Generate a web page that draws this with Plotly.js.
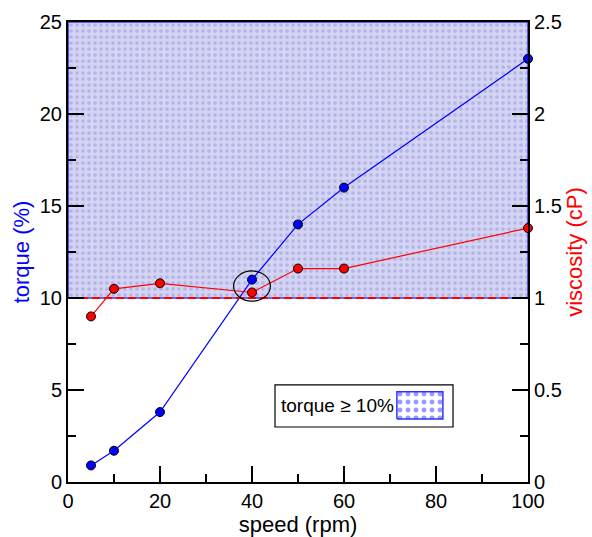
<!DOCTYPE html>
<html>
<head>
<meta charset="utf-8">
<script src="https://cdn.plot.ly/plotly-3.0.1.min.js"></script>
<style>html,body{margin:0;padding:0;background:#fff;}#chart{width:592px;height:537px;}</style>
</head>
<body>
<div id="chart"></div>
<script>
// ---- data ----
var speed = [5, 10, 20, 40, 50, 60, 100];
var torque = [0.9, 1.7, 3.8, 11, 14, 16, 23];
var viscosity = [0.9, 1.05, 1.08, 1.03, 1.16, 1.16, 1.38];
var torqueThreshold = 10;       // %
var viscosityReference = 1;     // cP
var highlightSpeed = 40;        // circled point
var legendLabel = 'torque \u2265 10%';
var xTitle = 'speed (rpm)';
var yTitle = 'torque (%)';
var y2Title = 'viscosity (cP)';

var xRange = [0, 100], yRange = [0, 25], y2Range = [0, 2.5];
var font = 'Liberation Sans, Arial, sans-serif';

var hi = speed.indexOf(highlightSpeed);
var hiMid = (torque[hi] + viscosity[hi] * 10) / 2;

var traces = [
  { // shaded region torque >= threshold
    x: [xRange[0], xRange[1], xRange[1], xRange[0], xRange[0]],
    y: [torqueThreshold, torqueThreshold, yRange[1], yRange[1], torqueThreshold],
    mode: 'lines', fill: 'toself', fillcolor: '#d2d2f2',
    fillpattern: {shape: '.', fgcolor: '#b4b4ea', bgcolor: '#d4d4f3', size: 6, solidity: 0.3, fillmode: 'replace'},
    line: {color: '#3a3af0', width: 1.6},
    hoverinfo: 'skip', showlegend: false
  },
  { // viscosity reference dashed line
    x: xRange, y: [viscosityReference, viscosityReference], yaxis: 'y2',
    mode: 'lines', line: {color: '#ff0000', width: 2.2, dash: '8px,4px'},
    showlegend: false, hoverinfo: 'skip'
  },
  {
    x: speed, y: viscosity, yaxis: 'y2', mode: 'lines+markers',
    line: {color: '#ff0000', width: 1.2},
    marker: {color: '#ff0000', size: 9, line: {color: '#000', width: 1}},
    showlegend: false, cliponaxis: false
  },
  {
    x: speed, y: torque, mode: 'lines+markers',
    line: {color: '#0000ff', width: 1.2},
    marker: {color: '#0000ff', size: 9, line: {color: '#000', width: 1}},
    showlegend: false, cliponaxis: false
  },
  { // legend swatch
    x: [0.715, 0.815, 0.815, 0.715, 0.715],
    y: [0.137, 0.137, 0.196, 0.196, 0.137],
    xaxis: 'x3', yaxis: 'y3',
    mode: 'lines', fill: 'toself', fillcolor: '#ffffff',
    fillpattern: {shape: '.', fgcolor: '#9a9aff', bgcolor: '#ffffff', size: 8, solidity: 0.3},
    line: {color: '#3030ff', width: 1.5},
    hoverinfo: 'skip', showlegend: false
  }
];

var axisCommon = {
  showline: true, linecolor: '#000', linewidth: 2,
  ticks: 'inside', ticklen: 16, tickwidth: 1.2, tickcolor: '#000',
  showgrid: false, zeroline: false,
  tickfont: {family: font, size: 20, color: '#000'}
};

var layout = {
  width: 592, height: 537,
  margin: {l: 68, r: 64, t: 22, b: 55},
  paper_bgcolor: '#fff', plot_bgcolor: '#fff',
  font: {family: font, color: '#000'},
  showlegend: false,
  xaxis: Object.assign({}, axisCommon, {
    range: xRange, dtick: 20, mirror: true,
    minor: {dtick: 10, ticks: 'inside', ticklen: 8, tickwidth: 1.2, tickcolor: '#000'},
    title: {text: xTitle, font: {family: font, size: 22, color: '#000'}, standoff: 3}
  }),
  yaxis: Object.assign({}, axisCommon, {
    range: yRange, dtick: 5,
    minor: {dtick: 2.5, ticks: 'inside', ticklen: 8, tickwidth: 1.2, tickcolor: '#000'},
    title: {text: yTitle, font: {family: font, size: 22, color: '#0000ff'}, standoff: 4}
  }),
  yaxis2: Object.assign({}, axisCommon, {
    range: y2Range, dtick: 0.5, overlaying: 'y', side: 'right',
    minor: {dtick: 0.25, ticks: 'inside', ticklen: 8, tickwidth: 1.2, tickcolor: '#000'},
    title: {text: y2Title, font: {family: font, size: 22, color: '#ff0000'}, standoff: 4}
  }),
  xaxis3: {overlaying: 'x', range: [0, 1], visible: false, anchor: 'y3'},
  yaxis3: {overlaying: 'y', range: [0, 1], visible: false, anchor: 'x3'},
  shapes: [
    { // highlight ellipse
      type: 'circle', xref: 'x', yref: 'y',
      x0: highlightSpeed - 4, x1: highlightSpeed + 4,
      y0: hiMid - 0.82, y1: hiMid + 0.82,
      line: {color: '#000', width: 1.2}
    },
    { // legend box
      type: 'rect', xref: 'paper', yref: 'paper',
      x0: 0.45, x1: 0.837, y0: 0.1196, y1: 0.211,
      line: {color: '#000', width: 1.2}, fillcolor: '#fff', layer: 'below'
    }
  ],
  annotations: [
    {
      xref: 'paper', yref: 'paper', x: 0.713, y: 0.166,
      xanchor: 'right', yanchor: 'middle', showarrow: false,
      text: legendLabel, font: {family: font, size: 19, color: '#000'}
    }
  ]
};

Plotly.newPlot('chart', traces, layout, {displayModeBar: false, staticPlot: true});
</script>
</body>
</html>
